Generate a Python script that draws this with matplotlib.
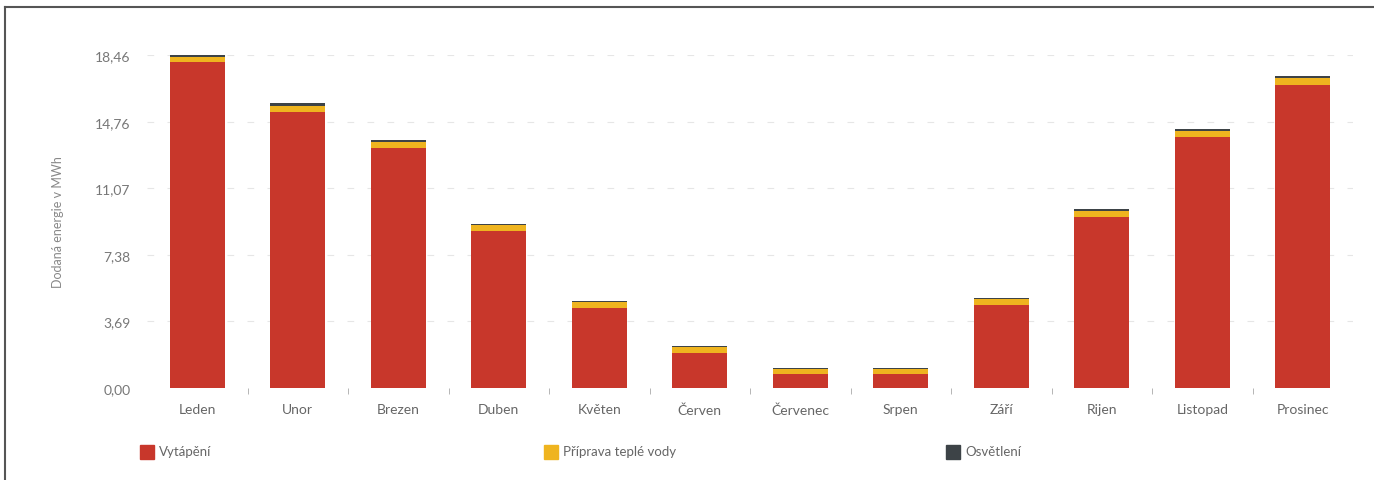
import matplotlib.pyplot as plt
import matplotlib.patches as mpatches
import numpy as np

plt.rcParams['font.family'] = ['Lato', 'DejaVu Sans']

mesice = ['Leden', 'Unor', 'Brezen', 'Duben', 'Květen', 'Červen', 'Červenec',
          'Srpen', 'Září', 'Rijen', 'Listopad', 'Prosinec']
vytapeni = [18.07, 15.30, 13.30, 8.70, 4.43, 1.94, 0.75, 0.75, 4.60, 9.48, 13.90, 16.80]
voda = [0.30, 0.35, 0.33, 0.34, 0.36, 0.36, 0.33, 0.33, 0.36, 0.32, 0.33, 0.36]
osvetleni = [0.14, 0.13, 0.12, 0.05, 0.03, 0.02, 0.02, 0.02, 0.03, 0.12, 0.13, 0.14]
yticks = [0.00, 3.69, 7.38, 11.07, 14.76, 18.46]

c_red = '#c8372b'
c_yel = '#efb41f'
c_dark = '#3d4347'

fig = plt.figure(figsize=(13.74, 4.81), dpi=100)
ax = fig.add_axes([147/1374, 1-389/481, (1353-147)/1374, (389-56)/481])

x = np.arange(len(mesice))
ax.bar(x, vytapeni, width=0.55, color=c_red)
ax.bar(x, voda, width=0.55, bottom=vytapeni, color=c_yel)
ax.bar(x, osvetleni, width=0.55, bottom=np.array(vytapeni) + np.array(voda), color=c_dark)

ax.set_xlim(-0.5, len(mesice) - 0.5)
ax.set_ylim(0, 18.46)
ax.set_yticks(yticks)
ax.set_yticklabels([f'{v:.2f}'.replace('.', ',') for v in yticks], color='#777777', fontsize=10)
ax.set_xticks(x)
ax.set_xticklabels(mesice, color='#666666', fontsize=10)
ax.set_xticks(x[:-1] + 0.5, minor=True)
ax.tick_params(axis='x', which='major', length=0, pad=11)
ax.tick_params(axis='x', which='minor', length=4, color='#aaaaaa')
ax.tick_params(axis='y', length=0, pad=12)
for v in yticks[1:]:
    ax.axhline(v, color='#e6e6e6', lw=0.8, ls=(0, (6, 12)), zorder=0)
for s in ax.spines.values():
    s.set_visible(False)
ax.set_ylabel('Dodaná energie v MWh', color='#888888', fontsize=9, labelpad=22)

# legend
items = [(c_red, 'Vytápění', 140), (c_yel, 'Příprava teplé vody', 544), (c_dark, 'Osvětlení', 946)]
for col, txt, px in items:
    fig.patches.append(mpatches.Rectangle((px/1374, 1-460/481), 14/1374, 14/481,
                                          transform=fig.transFigure, color=col))
    fig.text((px + 19)/1374, 1-452/481, txt, fontsize=9.5, color='#666666', va='center')

# frame lines of the scan
fig.add_artist(plt.Line2D([5/1374, 1], [1-8/481, 1-8/481], transform=fig.transFigure, color='#555555', lw=1.5))
fig.add_artist(plt.Line2D([5/1374, 5/1374], [0, 1-8/481], transform=fig.transFigure, color='#555555', lw=1.5))

plt.savefig('out.png', dpi=100)
